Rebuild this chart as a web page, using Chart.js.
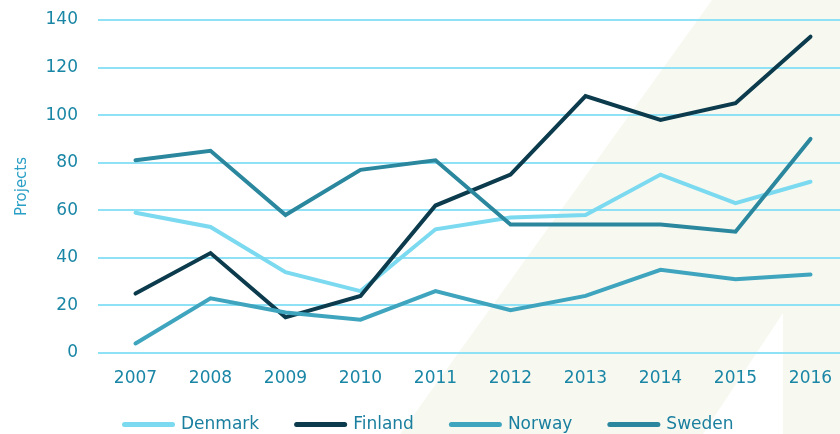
<!DOCTYPE html>
<html>
<head>
<meta charset="utf-8">
<script src="https://cdn.jsdelivr.net/npm/chart.js@4/dist/chart.umd.min.js"></script>
<style>
  html, body { margin: 0; padding: 0; background: #fff; overflow: hidden; }
  #wrap { width: 850px; height: 434px; position: relative; }
</style>
</head>
<body>
<div id="wrap"><canvas id="projects"></canvas></div>
<script>
const years = ['2007', '2008', '2009', '2010', '2011', '2012', '2013', '2014', '2015', '2016'];
const denmark = [59, 53, 34, 26, 52, 57, 58, 75, 63, 72];
const finland = [25, 42, 15, 24, 62, 75, 108, 98, 105, 133];
const norway  = [4, 23, 17, 14, 26, 18, 24, 35, 31, 33];
const sweden  = [81, 85, 58, 77, 81, 54, 54, 54, 51, 90];

const tickColor = '#1a86a6';
const gridColor = '#8fe2f6';

// pale diagonal band behind the plot
const backdrop = {
    id: 'backdrop',
    beforeDraw(chart) {
        const ctx = chart.ctx;
        ctx.save();
        ctx.fillStyle = '#f7f9f1';
        ctx.beginPath();
        ctx.moveTo(400, 434);
        ctx.lineTo(712, 0);
        ctx.lineTo(850, 0);
        ctx.lineTo(850, 434);
        ctx.lineTo(783, 434);
        ctx.lineTo(783, 313);
        ctx.lineTo(703, 434);
        ctx.closePath();
        ctx.fill();
        ctx.restore();
    }
};

// place the legend row under the plot's left side, a little higher
const legendShift = {
    id: 'legendShift',
    afterLayout(chart) {
        chart.legend.left = 87;
        chart.legend.top = 378.5;
    }
};

// later series are painted over earlier ones
function series(label, data, color, order) {
    return {
        label: label,
        data: data,
        order: order,
        borderColor: color,
        backgroundColor: color,
        borderWidth: 4,
        borderCapStyle: 'round',
        borderJoinStyle: 'miter',
        pointRadius: 0,
        tension: 0,
        fill: false
    };
}

new Chart(document.getElementById('projects'), {
    type: 'line',
    data: {
        labels: years,
        datasets: [
            series('Denmark', denmark, '#7bd9f0', 4),
            series('Finland', finland, '#0b3b4c', 3),
            series('Norway', norway, '#3fa4be', 2),
            series('Sweden', sweden, '#2a879e', 1)
        ]
    },
    plugins: [backdrop, legendShift],
    options: {
        responsive: true,
        maintainAspectRatio: false,
        animation: false,
        layout: { padding: { left: 0, right: 2, top: 20, bottom: -19.5 } },
        scales: {
            x: {
                offset: true,
                afterFit(scale) { scale.height = 36; },
                grid: { display: false, drawTicks: false },
                border: { display: false },
                ticks: {
                    color: tickColor,
                    padding: 15,
                    font: { family: 'DejaVu Sans', size: 17 }
                }
            },
            y: {
                min: 0,
                max: 140,
                afterFit(scale) { scale.width = 98; },
                border: { display: false },
                // invisible tick marks keep the labels clear of the grid
                grid: {
                    color: gridColor,
                    lineWidth: 2,
                    drawTicks: true,
                    tickLength: 20,
                    tickColor: 'rgba(0,0,0,0)'
                },
                ticks: {
                    stepSize: 20,
                    color: tickColor,
                    padding: 0,
                    font: { family: 'DejaVu Sans', size: 17 }
                },
                title: {
                    display: true,
                    text: 'Projects',
                    color: '#2a9fc6',
                    padding: { top: 13, bottom: 0 },
                    font: { family: 'DejaVu Sans', size: 15 }
                }
            }
        },
        plugins: {
            legend: {
                position: 'bottom',
                align: 'start',
                labels: {
                    usePointStyle: true,
                    pointStyle: 'line',
                    boxWidth: 48,
                    pointStyleWidth: 48,
                    padding: 37.5,
                    color: '#1a7f9f',
                    font: { family: 'DejaVu Sans', size: 17 },
                    generateLabels(chart) {
                        return chart.data.datasets.map((ds, i) => ({
                            text: ds.label,
                            fillStyle: ds.borderColor,
                            strokeStyle: ds.borderColor,
                            lineWidth: 5,
                            lineCap: 'round',
                            pointStyle: 'line',
                            fontColor: '#1a7f9f',
                            hidden: !chart.isDatasetVisible(i),
                            datasetIndex: i
                        }));
                    }
                }
            },
            tooltip: { enabled: false }
        }
    }
});
</script>
</body>
</html>
